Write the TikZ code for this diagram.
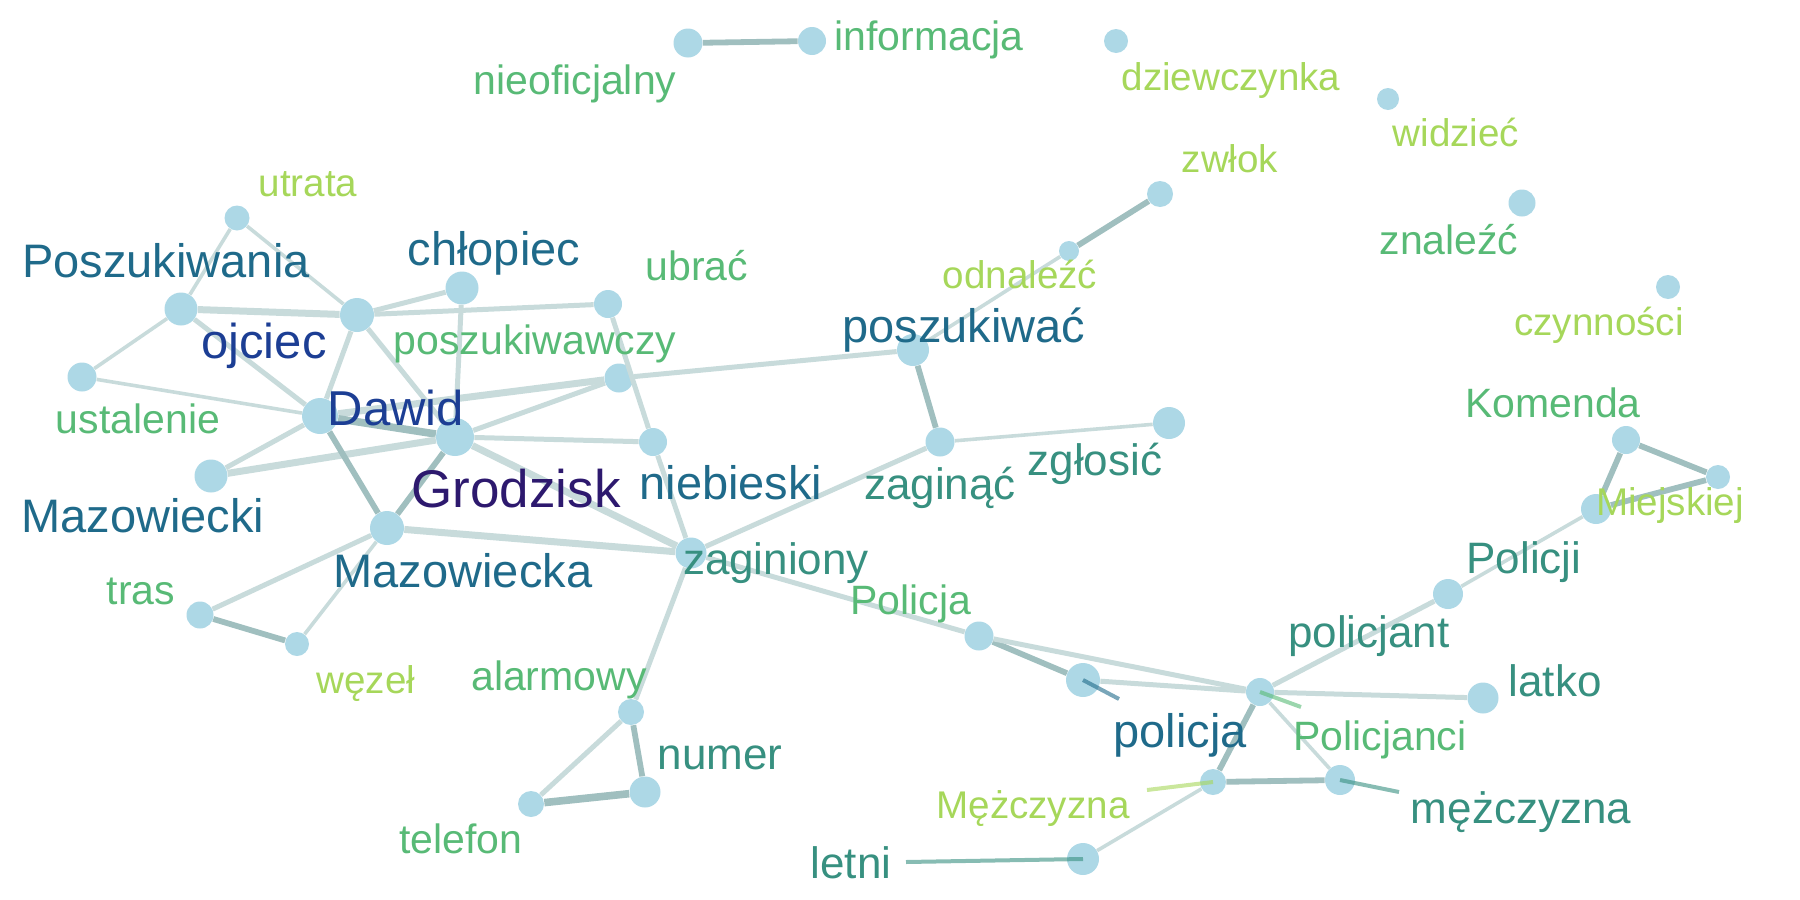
\documentclass[tikz,border=0pt]{standalone}
\usepackage{fontspec}
\setmainfont{Liberation Sans}
\usepackage{xcolor}
\usetikzlibrary{positioning}
\definecolor{nodeblue}{RGB}{173, 216, 230}
\definecolor{edgelight}{RGB}{200, 219, 219}
\definecolor{edgedark}{RGB}{160, 191, 191}
\definecolor{cpurple}{RGB}{45, 25, 110}
\definecolor{cblue}{RGB}{28, 62, 148}
\definecolor{cteal}{RGB}{31, 106, 138}
\definecolor{cgteal}{RGB}{55, 144, 128}
\definecolor{cgreen}{RGB}{88, 186, 118}
\definecolor{clime}{RGB}{166, 215, 90}
\tikzstyle{vertex} = [circle, fill=nodeblue, inner sep=0pt]
\tikzstyle{word} = [anchor=base, inner sep=0pt]
\tikzstyle{wpurple} = [word, text=cpurple, font=\fontsize{26.5pt}{30pt}\selectfont]
\tikzstyle{wblue} = [word, text=cblue, font=\fontsize{24.5pt}{28pt}\selectfont]
\tikzstyle{wteal} = [word, text=cteal, font=\fontsize{23.5pt}{27pt}\selectfont]
\tikzstyle{wgteal} = [word, text=cgteal, font=\fontsize{22pt}{25pt}\selectfont]
\tikzstyle{wgreen} = [word, text=cgreen, font=\fontsize{20.5pt}{24pt}\selectfont]
\tikzstyle{wlime} = [word, text=clime, font=\fontsize{19.3pt}{22pt}\selectfont]
\tikzstyle{thin} = [draw, edgelight, line width=1.8pt]
\tikzstyle{line} = [draw, edgelight, line width=2.5pt]
\tikzstyle{thick} = [draw, edgelight, line width=3.5pt]
\tikzstyle{dline} = [draw, edgedark, line width=2.9pt]
\tikzstyle{dthick} = [draw, edgedark, line width=3.8pt]
\tikzstyle{stub} = [draw, line width=2pt, opacity=0.6]

\begin{document}
\begin{tikzpicture}[x=0.5pt, y=-0.5pt]
    \useasboundingbox (0,0) rectangle (1800,900);

    % words as points
    \node [vertex, minimum size=14.5pt] (nieoficjalny) at (688,43) {};
    \node [vertex, minimum size=14pt] (informacja) at (812,41) {};
    \node [vertex, minimum size=12.5pt] (utrata) at (237,218) {};
    \node [vertex, minimum size=16.5pt] (poszukiwania) at (181,309) {};
    \node [vertex, minimum size=16.5pt] (chlopiec) at (462,288) {};
    \node [vertex, minimum size=14pt] (ubrac) at (608,304) {};
    \node [vertex, minimum size=17pt] (ojciec) at (357,315) {};
    \node [vertex, minimum size=14.5pt] (ustalenie) at (82,377) {};
    \node [vertex, minimum size=14.5pt] (poszukiwawczy) at (619,378) {};
    \node [vertex, minimum size=18pt] (dawid) at (320,416) {};
    \node [vertex, minimum size=19pt] (grodzisk) at (455,437) {};
    \node [vertex, minimum size=14pt] (niebieski) at (653,442) {};
    \node [vertex, minimum size=16pt] (poszukiwac) at (913,350) {};
    \node [vertex, minimum size=12pt] (dziewczynka) at (1116,41) {};
    \node [vertex, minimum size=11pt] (widziec) at (1388,99) {};
    \node [vertex, minimum size=13pt] (zwlok) at (1160,194) {};
    \node [vertex, minimum size=10pt] (odnalezc) at (1069,251) {};
    \node [vertex, minimum size=13.5pt] (znalezc) at (1522,203) {};
    \node [vertex, minimum size=12pt] (czynnosci) at (1668,287) {};
    \node [vertex, minimum size=14pt] (komenda) at (1626,440) {};
    \node [vertex, minimum size=14.5pt] (zaginac) at (940,442) {};
    \node [vertex, minimum size=16pt] (zglosic) at (1169,423) {};
    \node [vertex, minimum size=12pt] (miejskiej) at (1718,477) {};
    \node [vertex, minimum size=15pt] (policji) at (1596,509) {};
    \node [vertex, minimum size=15pt] (policjant) at (1448,594) {};
    \node [vertex, minimum size=16.5pt] (mazowiecki) at (211,476) {};
    \node [vertex, minimum size=17pt] (mazowiecka) at (387,528) {};
    \node [vertex, minimum size=15.5pt] (zaginiony) at (691,553) {};
    \node [vertex, minimum size=13.5pt] (tras) at (200,615) {};
    \node [vertex, minimum size=12pt] (wezel) at (297,644) {};
    \node [vertex, minimum size=13pt] (alarmowy) at (631,712) {};
    \node [vertex, minimum size=15.5pt] (numer) at (645,792) {};
    \node [vertex, minimum size=13pt] (telefon) at (531,804) {};
    \node [vertex, minimum size=14.5pt] (policjaup) at (979,636) {};
    \node [vertex, minimum size=17pt] (policja) at (1083,680) {};
    \node [vertex, minimum size=14pt] (policjanci) at (1260,692) {};
    \node [vertex, minimum size=15.5pt] (latko) at (1483,698) {};
    \node [vertex, minimum size=13pt] (mezczyznaup) at (1213,782) {};
    \node [vertex, minimum size=15pt] (mezczyzna) at (1340,780) {};
    \node [vertex, minimum size=16pt] (letni) at (1083,859) {};

    % co-occurrence links
    \path [dline] (nieoficjalny) -- (informacja);
    \path [thin] (utrata) -- (poszukiwania);
    \path [thin] (utrata) -- (ojciec);
    \path [thick] (poszukiwania) -- (ojciec);
    \path [thin] (poszukiwania) -- (ustalenie);
    \path [line] (poszukiwania) -- (dawid);
    \path [line] (ojciec) -- (chlopiec);
    \path [line] (ojciec) -- (ubrac);
    \path [line] (ojciec) -- (dawid);
    \path [line] (ojciec) -- (grodzisk);
    \path [line] (chlopiec) -- (grodzisk);
    \path [line] (ubrac) -- (niebieski);
    \path [thin] (ustalenie) -- (dawid);
    \path [thick] (poszukiwawczy) -- (dawid);
    \path [line] (poszukiwawczy) -- (grodzisk);
    \path [line] (poszukiwawczy) -- (poszukiwac);
    \path [dthick] (dawid) -- (grodzisk);
    \path [line] (grodzisk) -- (niebieski);
    \path [line] (mazowiecki) -- (dawid);
    \path [thick] (mazowiecki) -- (grodzisk);
    \path [dline] (dawid) -- (mazowiecka);
    \path [dline] (grodzisk) -- (mazowiecka);
    \path [thick] (grodzisk) -- (zaginiony);
    \path [thick] (mazowiecka) -- (zaginiony);
    \path [line] (niebieski) -- (zaginiony);
    \path [line] (mazowiecka) -- (tras);
    \path [thin] (mazowiecka) -- (wezel);
    \path [dline] (tras) -- (wezel);
    \path [line] (zaginiony) -- (zaginac);
    \path [line] (zaginiony) -- (alarmowy);
    \path [line] (zaginiony) -- (policjaup);
    \path [dline] (alarmowy) -- (numer);
    \path [line] (alarmowy) -- (telefon);
    \path [dthick] (numer) -- (telefon);
    \path [dline] (poszukiwac) -- (zaginac);
    \path [thin] (poszukiwac) -- (odnalezc);
    \path [dline] (odnalezc) -- (zwlok);
    \path [thin] (zaginac) -- (zglosic);
    \path [dline] (policjaup) -- (policja);
    \path [line] (policjaup) -- (policjanci);
    \path [line] (policja) -- (policjanci);
    \path [line] (policjanci) -- (policjant);
    \path [thin] (policjant) -- (policji);
    \path [line] (policjanci) -- (latko);
    \path [dline] (policjanci) -- (mezczyznaup);
    \path [thin] (policjanci) -- (mezczyzna);
    \path [dline] (mezczyznaup) -- (mezczyzna);
    \path [thin] (mezczyznaup) -- (letni);
    \path [dline] (komenda) -- (policji);
    \path [dline] (komenda) -- (miejskiej);
    \path [dline] (miejskiej) -- (policji);

    % label leaders
    \coordinate (policjaend) at (1119,699);
    \coordinate (policjanciend) at (1301,707);
    \coordinate (mezczyznaupend) at (1147,790);
    \coordinate (mezczyznaend) at (1399,792);
    \coordinate (letniend) at (906,862);
    \path [stub, cteal] (policja.center) -- (policjaend);
    \path [stub, cgreen] (policjanci.center) -- (policjanciend);
    \path [stub, clime] (mezczyznaup.center) -- (mezczyznaupend);
    \path [stub, cgteal] (mezczyzna.center) -- (mezczyznaend);
    \path [stub, cgteal] (letni.center) -- (letniend);

    % labels
    \node [wpurple] (grodzisktxt) at (516,507) {Grodzisk};
    \node [wblue] (dawidtxt) at (396,425) {Dawid};
    \node [wblue] (ojciectxt) at (264,358) {ojciec};
    \node [wteal] (poszukiwaniatxt) at (166,277) {Poszukiwania};
    \node [wteal] (chlopiectxt) at (494,265) {chłopiec};
    \node [wteal] (mazowieckitxt) at (143,532) {Mazowiecki};
    \node [wteal] (mazowieckatxt) at (463,587) {Mazowiecka};
    \node [wteal] (niebieskitxt) at (731,499) {niebieski};
    \node [wteal] (poszukiwactxt) at (964,342) {poszukiwać};
    \node [wteal] (policjatxt) at (1180,747) {policja};
    \node [wgteal] (zaginionytxt) at (776,574) {zaginiony};
    \node [wgteal] (zaginactxt) at (940,499) {zaginąć};
    \node [wgteal] (zglosictxt) at (1095,475) {zgłosić};
    \node [wgteal] (numertxt) at (720,769) {numer};
    \node [wgteal] (policjanttxt) at (1369,647) {policjant};
    \node [wgteal] (policjitxt) at (1524,573) {Policji};
    \node [wgteal] (latkotxt) at (1555,696) {latko};
    \node [wgteal] (mezczyznatxt) at (1521,823) {mężczyzna};
    \node [wgteal] (letnitxt) at (851,878) {letni};
    \node [wgreen] (informacjatxt) at (929,50) {informacja};
    \node [wgreen] (nieoficjalnytxt) at (575,94) {nieoficjalny};
    \node [wgreen] (ubractxt) at (697,280) {ubrać};
    \node [wgreen] (poszukiwawczytxt) at (535,354) {poszukiwawczy};
    \node [wgreen] (ustalenietxt) at (138,433) {ustalenie};
    \node [wgreen] (trastxt) at (141,604) {tras};
    \node [wgreen] (alarmowytxt) at (559,690) {alarmowy};
    \node [wgreen] (telefontxt) at (461,853) {telefon};
    \node [wgreen] (policjauptxt) at (911,614) {Policja};
    \node [wgreen] (komendatxt) at (1553,417) {Komenda};
    \node [wgreen] (policjancitxt) at (1380,750) {Policjanci};
    \node [wgreen] (znalezctxt) at (1449,254) {znaleźć};
    \node [wlime] (utratatxt) at (308,196) {utrata};
    \node [wlime] (dziewczynkatxt) at (1231,90) {dziewczynka};
    \node [wlime] (widziectxt) at (1456,146) {widzieć};
    \node [wlime] (zwloktxt) at (1230,172) {zwłok};
    \node [wlime] (odnalezctxt) at (1020,288) {odnaleźć};
    \node [wlime] (czynnoscitxt) at (1599,335) {czynności};
    \node [wlime] (wezeltxt) at (366,693) {węzeł};
    \node [wlime] (miejskiejtxt) at (1670,515) {Miejskiej};
    \node [wlime] (mezczyznauptxt) at (1033,818) {Mężczyzna};
\end{tikzpicture}
\end{document}
